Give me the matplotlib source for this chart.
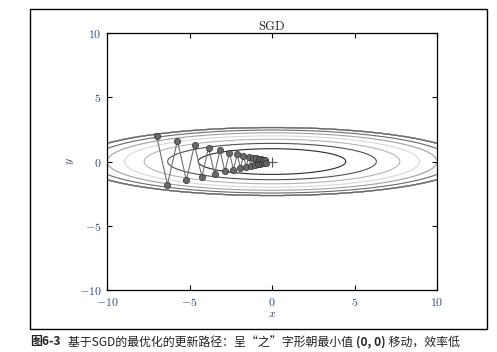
import matplotlib.pyplot as plt
import matplotlib.patches as patches
import numpy as np

plt.rcParams['mathtext.fontset'] = 'cm'
plt.rcParams['font.family'] = ['DejaVu Serif']

# SGD path
path_x = [-7.0, -6.335, -5.733, -5.189, -4.696, -4.250, -3.846, -3.481, -3.150, -2.851,
          -2.580, -2.335, -2.113, -1.912, -1.731, -1.566, -1.417, -1.283, -1.161, -1.051,
          -0.951, -0.861, -0.779, -0.705, -0.638, -0.577, -0.522, -0.473, -0.428, -0.387]
path_y = [2.0, -1.8, 1.62, -1.458, 1.312, -1.181, 1.063, -0.957, 0.861, -0.775,
          0.697, -0.628, 0.565, -0.508, 0.458, -0.412, 0.371, -0.334, 0.300, -0.270,
          0.243, -0.219, 0.197, -0.177, 0.160, -0.144, 0.129, -0.116, 0.105, -0.094]

levels = [1, 2, 3, 4, 5, 6, 7]
level_colors = ['#2a2a2a', '#505050', '#b4b4b4', '#d8d8d8', '#a0a0a0', '#6a6a6a', '#2a2a2a']

ticks = [-10, -5, 0, 5, 10]
tick_labels = ['$-10$', '$-5$', '$0$', '$5$', '$10$']

title = r'$\mathrm{SGD}$'
caption = [('图6-3', 'bold'), ('   基于SGD的最优化的更新路径：呈“之”字形朝最小值 ', 'normal'),
           ('(0, 0)', 'bold'), (' 移动，效率低', 'normal')]

# function surface for the contours
xs = np.arange(-10, 10, 0.01)
ys = np.arange(-5, 5, 0.01)
X, Y = np.meshgrid(xs, ys)
Z = X**2 / 20.0 + Y**2
Z[Z > 7] = 0

fig = plt.figure(figsize=(4.97, 3.52), dpi=100)
ax = fig.add_axes([0.2153, 0.1761, 0.664, 0.730])

ax.contour(X, Y, Z, levels=levels, colors=level_colors, linewidths=0.8)
ax.plot(path_x, path_y, '-', color='#707070', linewidth=0.8, zorder=3)
ax.plot(path_x, path_y, 'o', markersize=4.5, markerfacecolor='#686868',
        markeredgecolor='#303030', markeredgewidth=0.5, zorder=4)
ax.plot(0, 0, '+', color='#555555', markersize=7, markeredgewidth=0.8, zorder=4)

ax.set_xlim(-10, 10)
ax.set_ylim(-10, 10)
ax.set_xticks(ticks)
ax.set_xticklabels(tick_labels)
ax.set_yticks(ticks)
ax.set_yticklabels(tick_labels)
ax.tick_params(direction='in', top=True, right=True, length=3.5, width=0.8,
               labelsize=8.5, labelcolor='#2a4d80', pad=4)
for sp in ax.spines.values():
    sp.set_linewidth(0.9)

ax.set_title(title, fontsize=9, pad=2, color='#222222')
ax.set_xlabel('$x$', fontsize=8.5, labelpad=-1, color='#2a3a60')
ax.set_ylabel('$y$', fontsize=8.5, labelpad=2, color='#2a3a60')

# frame round the whole figure
fig.patches.append(patches.Rectangle((0.0604, 0.0653), 0.9195, 0.9091, transform=fig.transFigure,
                                     fill=False, edgecolor='black', linewidth=1.0))

# caption, pieces chained left to right
last = None
for txt, wt in caption:
    if last is None:
        last = fig.text(0.060, 0.010, txt, fontsize=8.6, weight=wt,
                        family=['Noto Sans CJK SC', 'DejaVu Sans'], va='bottom', color='#222222')
    else:
        last = ax.annotate(txt, xy=(1, 0), xycoords=last, va='bottom', ha='left',
                           fontsize=8.6, weight=wt, color='#222222',
                           family=['Noto Sans CJK SC', 'DejaVu Sans'], annotation_clip=False)

fig.savefig('out.png', dpi=100)
